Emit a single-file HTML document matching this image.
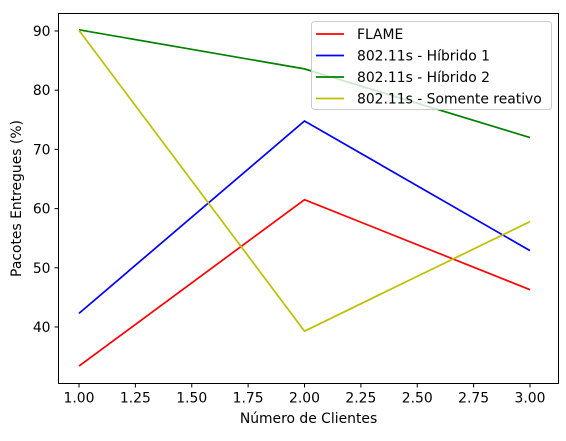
<!DOCTYPE html>
<html><head><meta charset="utf-8"><style>
body{margin:0;background:#fff}
text{font-family:"DejaVu Sans","Liberation Sans",sans-serif;font-size:13.9px;fill:#000}
</style></head><body>
<svg id="chart" width="566" height="436" xmlns="http://www.w3.org/2000/svg"></svg>
<script>
const categories=[1,2,3];
const flame=[33.4,61.5,46.3];
const hibrido1=[42.3,74.8,52.9];
const hibrido2=[90.2,83.6,72.0];
const reativo=[90.1,39.3,57.8];
const seriesNames=["FLAME","802.11s - Híbrido 1","802.11s - Híbrido 2","802.11s - Somente reativo"];
const xTicks=["1.00","1.25","1.50","1.75","2.00","2.25","2.50","2.75","3.00"];
const yTicks=[40,50,60,70,80,90];

const svg=document.getElementById('chart');
const NS="http://www.w3.org/2000/svg";
const L=58.5,R=558.5,T=13.5,B=383.5;
const xS=v=>79+(v-1)*(530-79)/2;
const yS=v=>327-(v-40)*5.92;
function mk(tag,attrs,parent){const e=document.createElementNS(NS,tag);for(const k in attrs)e.setAttribute(k,attrs[k]);(parent||svg).appendChild(e);return e;}

const series=[[flame,'#ff0000'],[hibrido1,'#0000ff'],[hibrido2,'#008000'],[reativo,'#bfbf00']];
series.forEach((s,i)=>{
  const p=mk('polyline',{points:categories.map((c,j)=>xS(c)+','+yS(s[0][j])).join(' '),fill:'none',stroke:s[1],'stroke-width':1.7});
  
  
});
const frame=mk('rect',{x:L,y:T,width:R-L,height:B-T,fill:'none',stroke:'#000','stroke-width':1});



xTicks.forEach(t=>{
  const x=xS(parseFloat(t));
  const tk=mk('line',{x1:x,x2:x,y1:B,y2:B+4,stroke:'#000'});
  
  
  const tx=mk('text',{x:x,y:B+19,'text-anchor':'middle'});tx.textContent=t;
  
  
});
yTicks.forEach(t=>{
  const y=yS(t);
  const tk=mk('line',{x1:L-4,x2:L,y1:y,y2:y,stroke:'#000'});
  
  
  const tx=mk('text',{x:L-8,y:y+5,'text-anchor':'end'});tx.textContent=t;
  
  
});
const xt=mk('text',{x:(L+R)/2,y:423,'text-anchor':'middle'});xt.textContent="Número de Clientes";


const yt=mk('text',{x:0,y:0,'text-anchor':'middle',transform:'translate(21,'+((T+B)/2)+') rotate(-90)'});yt.textContent="Pacotes Entregues (%)";



const lg=mk('g',{});


mk('rect',{x:311.5,y:21.5,width:240,height:88,rx:3,fill:'#fff','fill-opacity':0.8,stroke:'#ccc'},lg);
seriesNames.forEach((n,i)=>{
  const y=34+i*21.5;
  const ln=mk('line',{x1:316,x2:344,y1:y,y2:y,stroke:series[i][1],'stroke-width':1.7},lg);
  
  
  const tx=mk('text',{x:357,y:y+5},lg);tx.textContent=n;
  
  
});
</script>
</body></html>
